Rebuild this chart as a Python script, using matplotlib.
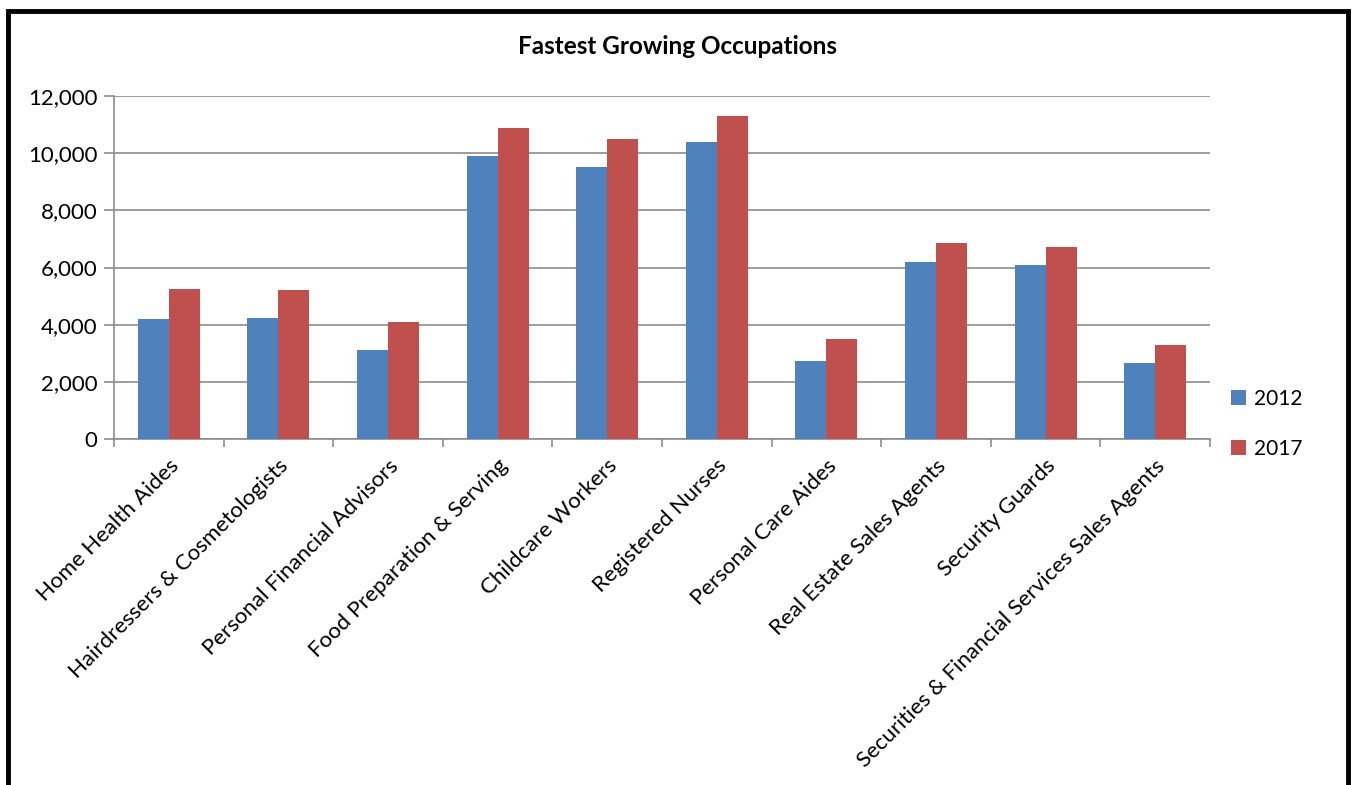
import matplotlib
matplotlib.use("Agg")
import matplotlib.pyplot as plt
import numpy as np
from matplotlib.patches import Rectangle

categories = ["Home Health Aides", "Hairdressers & Cosmetologists", "Personal Financial Advisors",
              "Food Preparation & Serving", "Childcare Workers", "Registered Nurses",
              "Personal Care Aides", "Real Estate Sales Agents", "Security Guards",
              "Securities & Financial Services Sales Agents"]
v2012 = [4200, 4230, 3110, 9900, 9530, 10380, 2730, 6190, 6090, 2660]
v2017 = [5250, 5230, 4100, 10880, 10500, 11300, 3500, 6860, 6720, 3290]
series_names = ["2012", "2017"]
yticks = [0, 2000, 4000, 6000, 8000, 10000, 12000]

plt.rcParams['font.family'] = ['Lato', 'DejaVu Sans']

W, H = 1355, 785
fig = plt.figure(figsize=(W/100, H/100), dpi=100)
ax = fig.add_axes([114/W, 1-439/H, (1210-114)/W, (439-96)/H])

x = np.arange(len(categories))
bw = 0.283
ax.bar(x - bw/2, v2012, bw, color='#4F81BD', label=series_names[0], zorder=3)
ax.bar(x + bw/2, v2017, bw, color='#C0504D', label=series_names[1], zorder=3)

ax.set_xlim(-0.5, len(categories)-0.5)
ax.set_ylim(0, 12000)
ax.set_yticks(yticks)
ax.set_yticklabels([f"{v:,}" for v in yticks], fontsize=16)
ax.yaxis.grid(True, color='#8c8c8c', linewidth=1.2, zorder=0)
ax.set_xticks(x)
ax.set_xticklabels(categories, rotation=45, ha='right', rotation_mode='anchor', fontsize=16)
ax.tick_params(axis='x', length=0, pad=12)
ax.set_xticks(np.arange(len(categories)+1) - 0.5, minor=True)
ax.tick_params(axis='x', which='minor', length=6, color='#8c8c8c', width=1.2)
ax.tick_params(axis='y', length=7, color='#8c8c8c', width=1.2, pad=5)
for s in ['top', 'right']:
    ax.spines[s].set_visible(False)
for s in ['left', 'bottom']:
    ax.spines[s].set_color('#8c8c8c')
    ax.spines[s].set_linewidth(1.2)

fig.text(677/W, 1-47/H, "Fastest Growing Occupations", ha='center', va='center',
         fontsize=17.5, fontweight='bold')

leg = fig.legend(loc='center left', bbox_to_anchor=(1212/W, 1-424/H), frameon=False,
                 fontsize=15, handlelength=0.75, handleheight=0.75, labelspacing=1.45,
                 handletextpad=0.35)

# outer black border
fig.patches.append(Rectangle((8/W, -0.05), (1348-8)/W, 1.05 - 11/H, transform=fig.transFigure,
                             fill=False, edgecolor='black', linewidth=3.5))

fig.savefig("out.png", dpi=100)
